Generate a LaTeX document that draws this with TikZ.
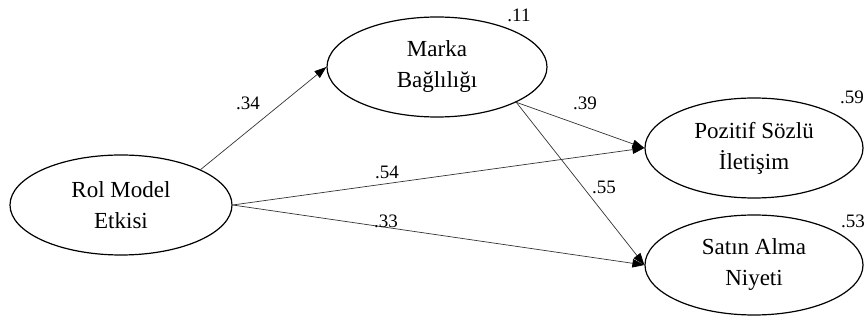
\documentclass[tikz,border=0pt]{standalone}
\usepackage{fontspec}
\setmainfont{Liberation Serif}
\usetikzlibrary{shapes.geometric,arrows.meta}
\begin{document}
\begin{tikzpicture}[x=1pt,y=-1pt,
  latent/.style={ellipse,draw=black,line width=1.2pt,inner sep=0pt,
    minimum width=#1,minimum height=100pt,align=center,
    font=\fontsize{23}{31}\selectfont},
  latent/.default=220pt,
  path/.style={draw=black!80,line width=0.7pt,
    -{Triangle[length=12pt,width=8.5pt,fill=black,color=black]}},
  coef/.style={font=\fontsize{19}{20}\selectfont,inner sep=0pt}]
\useasboundingbox (0,0) rectangle (868,320);

% latent constructs
\node[latent=222pt] (rol) at (121,205) {Rol Model\\Etkisi};
\node[latent=220pt] (marka) at (437,67) {Marka\\Bağlılığı};
\node[latent=218pt] (poz) at (754,148) {Pozitif Sözlü\\İletişim};
\node[latent=218pt] (sat) at (754,265) {Satın Alma\\Niyeti};

% structural paths
\draw[path] (rol.24) -- (marka.west);
\draw[path] (rol.east) -- (poz.west);
\draw[path] (rol.east) -- (sat.west);
\draw[path] (marka.-24) -- (poz.west);
\draw[path] (marka.-24) -- (sat.west);

% path coefficients
\node[coef] (c34) at (248,103) {.34};
\node[coef] (c54) at (387,172) {.54};
\node[coef] (c33) at (386,221) {.33};
\node[coef] (c39) at (585,103) {.39};
\node[coef] (c55) at (604,187) {.55};

% explained variance
\node[coef] (r11) at (519,15) {.11};
\node[coef] (r59) at (852,97) {.59};
\node[coef] (r53) at (853,221) {.53};
\end{tikzpicture}
\end{document}
